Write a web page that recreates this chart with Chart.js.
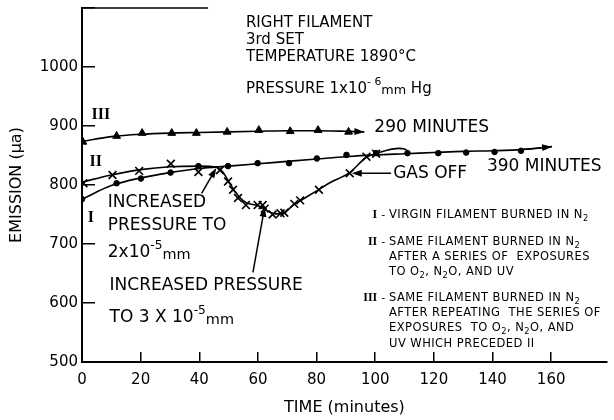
<!DOCTYPE html>
<html>
<head>
<meta charset="utf-8">
<script src="https://cdn.jsdelivr.net/npm/chart.js@4.4.0/dist/chart.umd.min.js"></script>
<style>
  html, body { margin: 0; padding: 0; background: #fff; }
  #wrap { width: 614px; height: 420px; position: relative; }
</style>
</head>
<body>
<div id="wrap"><canvas id="chart"></canvas></div>
<script>
// Curve I - virgin filament (dots)
const timeI = [0, 11.8, 20.1, 30.2, 39.7, 49.8, 59.9, 70.6, 80.1, 90.2, 100.3, 111, 121.5, 131, 140.7, 149.7];
const emissionI = [776, 803, 811, 821, 832, 832, 837, 837, 845, 851, 854, 854, 854, 855, 856, 858];
const fitTimeI = [0, 10, 20, 30, 40, 50, 60, 70, 80, 90, 100, 110, 120, 130, 140, 150, 160.3];
const fitI = [776, 799, 812, 821, 828, 832, 836, 840, 844, 848, 851, 853, 855, 857, 858, 860, 865];

// Curve II - after exposures (crosses)
const timeII = [0.5, 10.4, 19.5, 30.3, 39.7, 47, 49.8, 51.5, 53.2, 55.9, 59.9, 61.6, 62.3, 65, 67.7, 69, 72.4, 74.4, 80.8, 91.3, 97, 100.3];
const emissionII = [803, 817, 824, 836, 822, 825, 806, 792, 778, 766, 766, 766, 760, 750, 752, 753, 768, 774, 792, 820, 848, 853];
const fitTimeII = [0, 10, 20, 30, 40, 46, 48, 50, 52, 54, 56, 60, 63, 66, 69, 72, 76, 80, 85, 91, 97, 100, 104, 108, 110, 111.5];
const fitII = [805, 817, 826, 831, 832, 830, 822, 806, 790, 778, 770, 765, 757, 751, 753, 766, 778, 790, 805, 820, 847, 853, 859, 862, 861, 855];

// Curve III - after repeated exposures (triangles)
const timeIII = [0.3, 11.8, 20.5, 30.6, 39, 49.5, 60.3, 71, 80.5, 90.9];
const emissionIII = [873, 883, 888, 888, 888, 890, 893, 891, 893, 890];
const fitTimeIII = [0, 10, 20, 30, 40, 50, 60, 70, 80, 90, 96.3];
const fitIII = [874, 882, 886, 888, 889, 890, 891, 892, 892, 891, 890];

const xTickStep = 20;
const yTickStep = 100;

const FONT = 'DejaVu Sans';
const SERIF = 'Liberation Serif';

// text notes placed in data units (time, emission)
const notes = [
  { t: 55.9, v: 1074, text: 'RIGHT FILAMENT', size: 15 },
  { t: 55.9, v: 1046, text: '3rd SET', size: 15 },
  { t: 55.9, v: 1017, text: 'TEMPERATURE 1890°C', size: 15 },
  { t: 55.9, v: 963, text: 'PRESSURE 1x10^{- 6}~{mm} Hg', size: 15 },
  { t: 99.7, v: 898, text: '290 MINUTES', size: 17 },
  { t: 138.1, v: 832, text: '390 MINUTES', size: 17 },
  { t: 106.1, v: 820, text: 'GAS OFF', size: 17 },
  { t: 8.8, v: 771, text: 'INCREASED', size: 17 },
  { t: 8.8, v: 732, text: 'PRESSURE TO', size: 17 },
  { t: 8.8, v: 685, text: '2x10^{-5}~{mm}', size: 17 },
  { t: 9.4, v: 630, text: 'INCREASED PRESSURE', size: 17 },
  { t: 9.4, v: 575, text: 'TO 3 X 10^{-5}~{mm}', size: 17 }
];
const curveNames = [
  { t: 6.4, v: 919, text: 'III' },
  { t: 4.7, v: 839, text: 'II' },
  { t: 3, v: 744, text: 'I' }
];
const keyNums = [['I', 749], ['II', 703], ['III', 608.5]];
const keyLines = [
  ['VIRGIN FILAMENT BURNED IN N_{2}', 749],
  ['SAME FILAMENT BURNED IN N_{2}', 703],
  ['AFTER A SERIES OF  EXPOSURES', 678],
  ['TO O_{2}, N_{2}O, AND UV', 652.5],
  ['SAME FILAMENT BURNED IN N_{2}', 608.5],
  ['AFTER REPEATING  THE SERIES OF', 583],
  ['EXPOSURES  TO O_{2}, N_{2}O, AND', 557.6],
  ['UV WHICH PRECEDED II', 530.5]
];
const pointers = [
  { from: [105.4, 820], to: [92, 820] },
  { from: [40.8, 786], to: [45.8, 829] },
  { from: [58.3, 652], to: [62.3, 763] }
];

function pts(xs, ys) {
  return xs.map((x, i) => ({ x: x, y: ys[i] }));
}

// draws text with _{sub}, ^{sup} and ~{slightly lowered} parts
function drawRich(ctx, str, x, y, size, family, spacing) {
  const parts = str.split(/([_^~]\{[^}]*\})/);
  let cx = x;
  ctx.letterSpacing = spacing || '0px';
  parts.forEach(p => {
    if (!p) return;
    let s = size, dy = 0, txt = p;
    if (p[1] === '{') {
      txt = p.slice(2, -1);
      if (p[0] === '^') { s = size * 0.72; dy = -size * 0.42; }
      else if (p[0] === '_') { s = size * 0.72; dy = size * 0.3; }
      else { s = size * 0.85; dy = size * 0.15; }
    }
    ctx.font = s + 'px "' + family + '"';
    ctx.fillText(txt, cx, y + dy);
    cx += ctx.measureText(txt).width;
  });
  ctx.letterSpacing = '0px';
}

function arrow(ctx, x0, y0, x1, y1) {
  const a = Math.atan2(y1 - y0, x1 - x0);
  const len = 10, half = 3.5;
  ctx.beginPath();
  ctx.moveTo(x0, y0);
  ctx.lineTo(x1 - Math.cos(a) * len * 0.8, y1 - Math.sin(a) * len * 0.8);
  ctx.stroke();
  ctx.beginPath();
  ctx.moveTo(x1, y1);
  ctx.lineTo(x1 - Math.cos(a) * len - Math.sin(a) * half, y1 - Math.sin(a) * len + Math.cos(a) * half);
  ctx.lineTo(x1 - Math.cos(a) * len + Math.sin(a) * half, y1 - Math.sin(a) * len - Math.cos(a) * half);
  ctx.closePath();
  ctx.fill();
}

const notesPlugin = {
  id: 'notes',
  afterDatasetsDraw(chart) {
    const ctx = chart.ctx;
    const xs = chart.scales.x, ys = chart.scales.y;
    const X = t => xs.getPixelForValue(t);
    const Y = v => ys.getPixelForValue(v);
    ctx.save();
    ctx.fillStyle = '#000';
    ctx.strokeStyle = '#000';
    ctx.lineWidth = 1.5;

    // short top frame piece
    ctx.beginPath();
    ctx.moveTo(X(0), Y(ys.max));
    ctx.lineTo(X(43), Y(ys.max));
    ctx.stroke();

    ctx.textBaseline = 'middle';
    ctx.textAlign = 'left';
    notes.forEach(n => drawRich(ctx, n.text, X(n.t), Y(n.v), n.size, FONT));

    ctx.textAlign = 'center';
    ctx.font = 'bold 16px "' + SERIF + '"';
    curveNames.forEach(n => ctx.fillText(n.text, X(n.t), Y(n.v)));

    // key
    ctx.textAlign = 'right';
    ctx.font = 'bold 12px "' + SERIF + '"';
    keyNums.forEach(k => ctx.fillText(k[0], X(100.7), Y(k[1])));
    ctx.textAlign = 'center';
    ctx.font = '11px "' + FONT + '"';
    keyNums.forEach(k => ctx.fillText('-', X(102.7), Y(k[1])));
    ctx.textAlign = 'left';
    keyLines.forEach(k => drawRich(ctx, k[0], X(104.7), Y(k[1]), 11.5, FONT, '0.45px'));

    // arrows
    pointers.forEach(p => arrow(ctx, X(p.from[0]), Y(p.from[1]), X(p.to[0]), Y(p.to[1])));
    [[fitTimeIII, fitIII], [fitTimeI, fitI]].forEach(c => {
      const n = c[0].length;
      arrow(ctx, X(c[0][n - 2]), Y(c[1][n - 2]), X(c[0][n - 1]), Y(c[1][n - 1]));
    });
    ctx.restore();
  }
};

const fitStyle = {
  borderColor: '#000', borderWidth: 1.6, pointRadius: 0,
  cubicInterpolationMode: 'monotone', fill: false
};
const markStyle = {
  showLine: false, borderColor: '#000', backgroundColor: '#000'
};

new Chart(document.getElementById('chart'), {
  type: 'line',
  data: {
    datasets: [
      Object.assign({ label: 'I fit', data: pts(fitTimeI, fitI) }, fitStyle),
      Object.assign({ label: 'I', data: pts(timeI, emissionI), pointStyle: 'circle', pointRadius: 2.8 }, markStyle),
      Object.assign({ label: 'II fit', data: pts(fitTimeII, fitII) }, fitStyle),
      Object.assign({ label: 'II', data: pts(timeII, emissionII), pointStyle: 'crossRot', pointRadius: 5.5, pointBorderWidth: 1.6 }, markStyle),
      Object.assign({ label: 'III fit', data: pts(fitTimeIII, fitIII) }, fitStyle),
      Object.assign({ label: 'III', data: pts(timeIII, emissionIII), pointStyle: 'triangle', pointRadius: 4.5 }, markStyle)
    ]
  },
  options: {
    responsive: true,
    maintainAspectRatio: false,
    animation: false,
    layout: { padding: { top: 8, right: 0, bottom: 0, left: 0 } },
    plugins: { legend: { display: false }, tooltip: { enabled: false } },
    scales: {
      x: {
        type: 'linear', min: 0, max: 179,
        afterFit: s => { s.height = 58; s.paddingLeft = 0; s.paddingRight = 0; },
        ticks: {
          stepSize: xTickStep, includeBounds: false, autoSkip: false, maxRotation: 0,
          color: '#000', font: { family: FONT, size: 15 }, padding: 19
        },
        grid: { drawOnChartArea: false, tickLength: -10, color: '#000', lineWidth: 1.5 },
        border: { color: '#000', width: 2 },
        title: {
          display: true, text: 'TIME (minutes)', color: '#000',
          font: { family: FONT, size: 16 }, padding: { top: 0, bottom: 3 }
        }
      },
      y: {
        type: 'linear', min: 500, max: 1100,
        afterFit: s => { s.width = 82; s.paddingTop = 0; s.paddingBottom = 0; },
        ticks: {
          stepSize: yTickStep, color: '#000', font: { family: FONT, size: 15 }, padding: 17,
          callback: v => (v > 1000 ? '' : v)
        },
        grid: { drawOnChartArea: false, tickLength: -13, color: '#000', lineWidth: 1.5 },
        border: { color: '#000', width: 2 },
        title: {
          display: true, text: 'EMISSION (μa)', color: '#000',
          font: { family: FONT, size: 16 }, padding: { top: 7, bottom: 0 }
        }
      }
    }
  },
  plugins: [notesPlugin]
});
</script>
</body>
</html>
